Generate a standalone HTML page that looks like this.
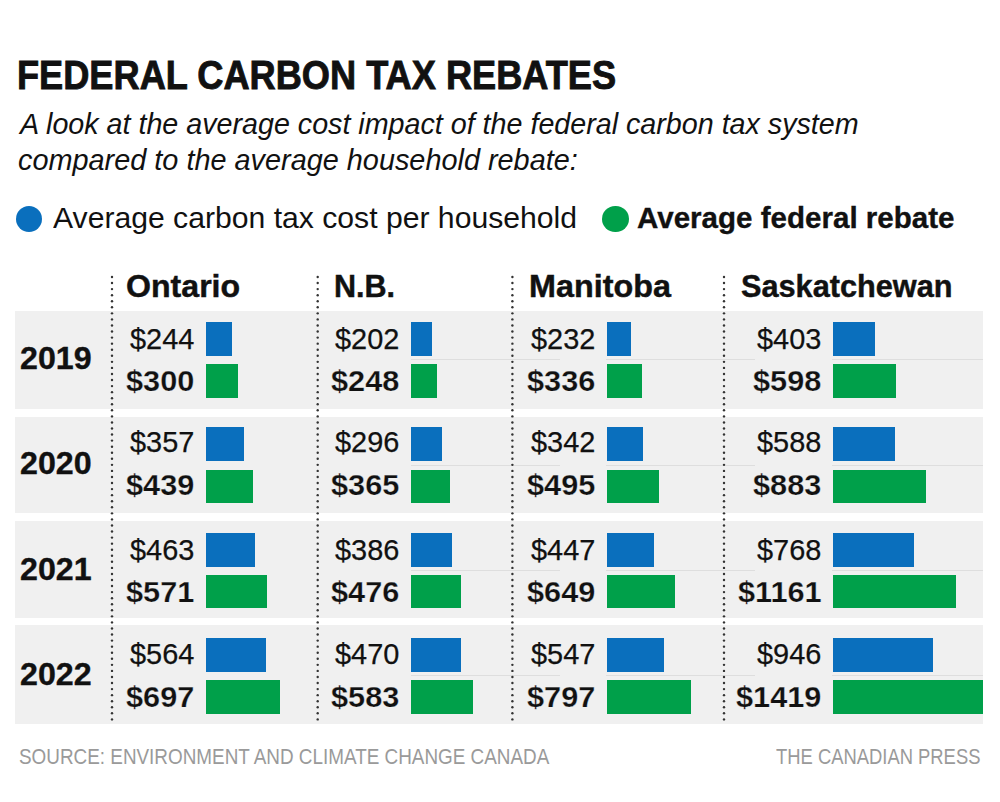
<!DOCTYPE html>
<html><head><meta charset="utf-8"><style>
html,body{margin:0;padding:0;background:#fff;width:1000px;height:802px;overflow:hidden}
body{position:relative;font-family:"Liberation Sans",sans-serif;color:#111}
.t{position:absolute;white-space:nowrap;transform-origin:0 0}
.r{position:absolute}
.dot{position:absolute;border-radius:50%}
.ov{position:absolute;left:0;top:0}
</style></head><body>
<div class="dot" style="left:15.7px;top:205.8px;width:26.6px;height:26.6px;background:#0a6fbd"></div>
<div class="dot" style="left:601.5px;top:205.8px;width:27px;height:26.6px;background:#00a04a"></div>
<div class="r" style="left:15px;top:310.70px;width:968px;height:98.30px;background:#f0f0f0"></div>
<div class="r" style="left:411px;top:359.35px;width:149px;height:1px;background:#dedede"></div>
<div class="r" style="left:606px;top:359.35px;width:149px;height:1px;background:#dedede"></div>
<div class="r" style="left:832px;top:359.35px;width:151px;height:1px;background:#dedede"></div>
<div class="r" style="left:15px;top:416.80px;width:968px;height:96.70px;background:#f0f0f0"></div>
<div class="r" style="left:411px;top:464.70px;width:149px;height:1px;background:#dedede"></div>
<div class="r" style="left:606px;top:464.70px;width:149px;height:1px;background:#dedede"></div>
<div class="r" style="left:832px;top:464.70px;width:151px;height:1px;background:#dedede"></div>
<div class="r" style="left:15px;top:521.00px;width:968px;height:96.70px;background:#f0f0f0"></div>
<div class="r" style="left:411px;top:570.20px;width:149px;height:1px;background:#dedede"></div>
<div class="r" style="left:606px;top:570.20px;width:149px;height:1px;background:#dedede"></div>
<div class="r" style="left:832px;top:570.20px;width:151px;height:1px;background:#dedede"></div>
<div class="r" style="left:15px;top:625.20px;width:968px;height:99.20px;background:#f0f0f0"></div>
<div class="r" style="left:411px;top:675.40px;width:149px;height:1px;background:#dedede"></div>
<div class="r" style="left:606px;top:675.40px;width:149px;height:1px;background:#dedede"></div>
<div class="r" style="left:832px;top:675.40px;width:151px;height:1px;background:#dedede"></div>
<div class="r" style="left:206px;top:321.80px;width:25.86px;height:33.80px;background:#0a6fbd"></div>
<div class="r" style="left:206px;top:364.10px;width:31.80px;height:33.50px;background:#00a04a"></div>
<div class="r" style="left:206px;top:427.20px;width:37.84px;height:33.70px;background:#0a6fbd"></div>
<div class="r" style="left:206px;top:469.50px;width:46.53px;height:33.70px;background:#00a04a"></div>
<div class="r" style="left:206px;top:532.50px;width:49.08px;height:34.00px;background:#0a6fbd"></div>
<div class="r" style="left:206px;top:574.90px;width:60.53px;height:33.60px;background:#00a04a"></div>
<div class="r" style="left:206px;top:638.10px;width:59.78px;height:33.60px;background:#0a6fbd"></div>
<div class="r" style="left:206px;top:680.10px;width:73.88px;height:33.50px;background:#00a04a"></div>
<div class="r" style="left:411px;top:321.80px;width:21.41px;height:33.80px;background:#0a6fbd"></div>
<div class="r" style="left:411px;top:364.10px;width:26.29px;height:33.50px;background:#00a04a"></div>
<div class="r" style="left:411px;top:427.20px;width:31.38px;height:33.70px;background:#0a6fbd"></div>
<div class="r" style="left:411px;top:469.50px;width:38.69px;height:33.70px;background:#00a04a"></div>
<div class="r" style="left:411px;top:532.50px;width:40.92px;height:34.00px;background:#0a6fbd"></div>
<div class="r" style="left:411px;top:574.90px;width:50.46px;height:33.60px;background:#00a04a"></div>
<div class="r" style="left:411px;top:638.10px;width:49.82px;height:33.60px;background:#0a6fbd"></div>
<div class="r" style="left:411px;top:680.10px;width:61.80px;height:33.50px;background:#00a04a"></div>
<div class="r" style="left:606.5px;top:321.80px;width:24.59px;height:33.80px;background:#0a6fbd"></div>
<div class="r" style="left:606.5px;top:364.10px;width:35.62px;height:33.50px;background:#00a04a"></div>
<div class="r" style="left:606.5px;top:427.20px;width:36.25px;height:33.70px;background:#0a6fbd"></div>
<div class="r" style="left:606.5px;top:469.50px;width:52.47px;height:33.70px;background:#00a04a"></div>
<div class="r" style="left:606.5px;top:532.50px;width:47.38px;height:34.00px;background:#0a6fbd"></div>
<div class="r" style="left:606.5px;top:574.90px;width:68.79px;height:33.60px;background:#00a04a"></div>
<div class="r" style="left:606.5px;top:638.10px;width:57.98px;height:33.60px;background:#0a6fbd"></div>
<div class="r" style="left:606.5px;top:680.10px;width:84.48px;height:33.50px;background:#00a04a"></div>
<div class="r" style="left:832.5px;top:321.80px;width:42.72px;height:33.80px;background:#0a6fbd"></div>
<div class="r" style="left:832.5px;top:364.10px;width:63.39px;height:33.50px;background:#00a04a"></div>
<div class="r" style="left:832.5px;top:427.20px;width:62.33px;height:33.70px;background:#0a6fbd"></div>
<div class="r" style="left:832.5px;top:469.50px;width:93.60px;height:33.70px;background:#00a04a"></div>
<div class="r" style="left:832.5px;top:532.50px;width:81.41px;height:34.00px;background:#0a6fbd"></div>
<div class="r" style="left:832.5px;top:574.90px;width:123.07px;height:33.60px;background:#00a04a"></div>
<div class="r" style="left:832.5px;top:638.10px;width:100.28px;height:33.60px;background:#0a6fbd"></div>
<div class="r" style="left:832.5px;top:680.10px;width:150.41px;height:33.50px;background:#00a04a"></div>
<svg class="ov" width="1000" height="802" viewBox="0 0 1000 802"><g fill="#333"><circle cx="112" cy="277.00" r="1.2"/><circle cx="112" cy="283.06" r="1.2"/><circle cx="112" cy="289.12" r="1.2"/><circle cx="112" cy="295.18" r="1.2"/><circle cx="112" cy="301.24" r="1.2"/><circle cx="112" cy="307.30" r="1.2"/><circle cx="112" cy="313.36" r="1.2"/><circle cx="112" cy="319.42" r="1.2"/><circle cx="112" cy="325.48" r="1.2"/><circle cx="112" cy="331.54" r="1.2"/><circle cx="112" cy="337.60" r="1.2"/><circle cx="112" cy="343.66" r="1.2"/><circle cx="112" cy="349.72" r="1.2"/><circle cx="112" cy="355.78" r="1.2"/><circle cx="112" cy="361.84" r="1.2"/><circle cx="112" cy="367.90" r="1.2"/><circle cx="112" cy="373.96" r="1.2"/><circle cx="112" cy="380.02" r="1.2"/><circle cx="112" cy="386.08" r="1.2"/><circle cx="112" cy="392.14" r="1.2"/><circle cx="112" cy="398.20" r="1.2"/><circle cx="112" cy="404.26" r="1.2"/><circle cx="112" cy="410.32" r="1.2"/><circle cx="112" cy="416.38" r="1.2"/><circle cx="112" cy="422.44" r="1.2"/><circle cx="112" cy="428.50" r="1.2"/><circle cx="112" cy="434.56" r="1.2"/><circle cx="112" cy="440.62" r="1.2"/><circle cx="112" cy="446.68" r="1.2"/><circle cx="112" cy="452.74" r="1.2"/><circle cx="112" cy="458.80" r="1.2"/><circle cx="112" cy="464.86" r="1.2"/><circle cx="112" cy="470.92" r="1.2"/><circle cx="112" cy="476.98" r="1.2"/><circle cx="112" cy="483.04" r="1.2"/><circle cx="112" cy="489.10" r="1.2"/><circle cx="112" cy="495.16" r="1.2"/><circle cx="112" cy="501.22" r="1.2"/><circle cx="112" cy="507.28" r="1.2"/><circle cx="112" cy="513.34" r="1.2"/><circle cx="112" cy="519.40" r="1.2"/><circle cx="112" cy="525.46" r="1.2"/><circle cx="112" cy="531.52" r="1.2"/><circle cx="112" cy="537.58" r="1.2"/><circle cx="112" cy="543.64" r="1.2"/><circle cx="112" cy="549.70" r="1.2"/><circle cx="112" cy="555.76" r="1.2"/><circle cx="112" cy="561.82" r="1.2"/><circle cx="112" cy="567.88" r="1.2"/><circle cx="112" cy="573.94" r="1.2"/><circle cx="112" cy="580.00" r="1.2"/><circle cx="112" cy="586.06" r="1.2"/><circle cx="112" cy="592.12" r="1.2"/><circle cx="112" cy="598.18" r="1.2"/><circle cx="112" cy="604.24" r="1.2"/><circle cx="112" cy="610.30" r="1.2"/><circle cx="112" cy="616.36" r="1.2"/><circle cx="112" cy="622.42" r="1.2"/><circle cx="112" cy="628.48" r="1.2"/><circle cx="112" cy="634.54" r="1.2"/><circle cx="112" cy="640.60" r="1.2"/><circle cx="112" cy="646.66" r="1.2"/><circle cx="112" cy="652.72" r="1.2"/><circle cx="112" cy="658.78" r="1.2"/><circle cx="112" cy="664.84" r="1.2"/><circle cx="112" cy="670.90" r="1.2"/><circle cx="112" cy="676.96" r="1.2"/><circle cx="112" cy="683.02" r="1.2"/><circle cx="112" cy="689.08" r="1.2"/><circle cx="112" cy="695.14" r="1.2"/><circle cx="112" cy="701.20" r="1.2"/><circle cx="112" cy="707.26" r="1.2"/><circle cx="112" cy="713.32" r="1.2"/><circle cx="112" cy="719.38" r="1.2"/><circle cx="317.7" cy="277.00" r="1.2"/><circle cx="317.7" cy="283.06" r="1.2"/><circle cx="317.7" cy="289.12" r="1.2"/><circle cx="317.7" cy="295.18" r="1.2"/><circle cx="317.7" cy="301.24" r="1.2"/><circle cx="317.7" cy="307.30" r="1.2"/><circle cx="317.7" cy="313.36" r="1.2"/><circle cx="317.7" cy="319.42" r="1.2"/><circle cx="317.7" cy="325.48" r="1.2"/><circle cx="317.7" cy="331.54" r="1.2"/><circle cx="317.7" cy="337.60" r="1.2"/><circle cx="317.7" cy="343.66" r="1.2"/><circle cx="317.7" cy="349.72" r="1.2"/><circle cx="317.7" cy="355.78" r="1.2"/><circle cx="317.7" cy="361.84" r="1.2"/><circle cx="317.7" cy="367.90" r="1.2"/><circle cx="317.7" cy="373.96" r="1.2"/><circle cx="317.7" cy="380.02" r="1.2"/><circle cx="317.7" cy="386.08" r="1.2"/><circle cx="317.7" cy="392.14" r="1.2"/><circle cx="317.7" cy="398.20" r="1.2"/><circle cx="317.7" cy="404.26" r="1.2"/><circle cx="317.7" cy="410.32" r="1.2"/><circle cx="317.7" cy="416.38" r="1.2"/><circle cx="317.7" cy="422.44" r="1.2"/><circle cx="317.7" cy="428.50" r="1.2"/><circle cx="317.7" cy="434.56" r="1.2"/><circle cx="317.7" cy="440.62" r="1.2"/><circle cx="317.7" cy="446.68" r="1.2"/><circle cx="317.7" cy="452.74" r="1.2"/><circle cx="317.7" cy="458.80" r="1.2"/><circle cx="317.7" cy="464.86" r="1.2"/><circle cx="317.7" cy="470.92" r="1.2"/><circle cx="317.7" cy="476.98" r="1.2"/><circle cx="317.7" cy="483.04" r="1.2"/><circle cx="317.7" cy="489.10" r="1.2"/><circle cx="317.7" cy="495.16" r="1.2"/><circle cx="317.7" cy="501.22" r="1.2"/><circle cx="317.7" cy="507.28" r="1.2"/><circle cx="317.7" cy="513.34" r="1.2"/><circle cx="317.7" cy="519.40" r="1.2"/><circle cx="317.7" cy="525.46" r="1.2"/><circle cx="317.7" cy="531.52" r="1.2"/><circle cx="317.7" cy="537.58" r="1.2"/><circle cx="317.7" cy="543.64" r="1.2"/><circle cx="317.7" cy="549.70" r="1.2"/><circle cx="317.7" cy="555.76" r="1.2"/><circle cx="317.7" cy="561.82" r="1.2"/><circle cx="317.7" cy="567.88" r="1.2"/><circle cx="317.7" cy="573.94" r="1.2"/><circle cx="317.7" cy="580.00" r="1.2"/><circle cx="317.7" cy="586.06" r="1.2"/><circle cx="317.7" cy="592.12" r="1.2"/><circle cx="317.7" cy="598.18" r="1.2"/><circle cx="317.7" cy="604.24" r="1.2"/><circle cx="317.7" cy="610.30" r="1.2"/><circle cx="317.7" cy="616.36" r="1.2"/><circle cx="317.7" cy="622.42" r="1.2"/><circle cx="317.7" cy="628.48" r="1.2"/><circle cx="317.7" cy="634.54" r="1.2"/><circle cx="317.7" cy="640.60" r="1.2"/><circle cx="317.7" cy="646.66" r="1.2"/><circle cx="317.7" cy="652.72" r="1.2"/><circle cx="317.7" cy="658.78" r="1.2"/><circle cx="317.7" cy="664.84" r="1.2"/><circle cx="317.7" cy="670.90" r="1.2"/><circle cx="317.7" cy="676.96" r="1.2"/><circle cx="317.7" cy="683.02" r="1.2"/><circle cx="317.7" cy="689.08" r="1.2"/><circle cx="317.7" cy="695.14" r="1.2"/><circle cx="317.7" cy="701.20" r="1.2"/><circle cx="317.7" cy="707.26" r="1.2"/><circle cx="317.7" cy="713.32" r="1.2"/><circle cx="317.7" cy="719.38" r="1.2"/><circle cx="512.4" cy="277.00" r="1.2"/><circle cx="512.4" cy="283.06" r="1.2"/><circle cx="512.4" cy="289.12" r="1.2"/><circle cx="512.4" cy="295.18" r="1.2"/><circle cx="512.4" cy="301.24" r="1.2"/><circle cx="512.4" cy="307.30" r="1.2"/><circle cx="512.4" cy="313.36" r="1.2"/><circle cx="512.4" cy="319.42" r="1.2"/><circle cx="512.4" cy="325.48" r="1.2"/><circle cx="512.4" cy="331.54" r="1.2"/><circle cx="512.4" cy="337.60" r="1.2"/><circle cx="512.4" cy="343.66" r="1.2"/><circle cx="512.4" cy="349.72" r="1.2"/><circle cx="512.4" cy="355.78" r="1.2"/><circle cx="512.4" cy="361.84" r="1.2"/><circle cx="512.4" cy="367.90" r="1.2"/><circle cx="512.4" cy="373.96" r="1.2"/><circle cx="512.4" cy="380.02" r="1.2"/><circle cx="512.4" cy="386.08" r="1.2"/><circle cx="512.4" cy="392.14" r="1.2"/><circle cx="512.4" cy="398.20" r="1.2"/><circle cx="512.4" cy="404.26" r="1.2"/><circle cx="512.4" cy="410.32" r="1.2"/><circle cx="512.4" cy="416.38" r="1.2"/><circle cx="512.4" cy="422.44" r="1.2"/><circle cx="512.4" cy="428.50" r="1.2"/><circle cx="512.4" cy="434.56" r="1.2"/><circle cx="512.4" cy="440.62" r="1.2"/><circle cx="512.4" cy="446.68" r="1.2"/><circle cx="512.4" cy="452.74" r="1.2"/><circle cx="512.4" cy="458.80" r="1.2"/><circle cx="512.4" cy="464.86" r="1.2"/><circle cx="512.4" cy="470.92" r="1.2"/><circle cx="512.4" cy="476.98" r="1.2"/><circle cx="512.4" cy="483.04" r="1.2"/><circle cx="512.4" cy="489.10" r="1.2"/><circle cx="512.4" cy="495.16" r="1.2"/><circle cx="512.4" cy="501.22" r="1.2"/><circle cx="512.4" cy="507.28" r="1.2"/><circle cx="512.4" cy="513.34" r="1.2"/><circle cx="512.4" cy="519.40" r="1.2"/><circle cx="512.4" cy="525.46" r="1.2"/><circle cx="512.4" cy="531.52" r="1.2"/><circle cx="512.4" cy="537.58" r="1.2"/><circle cx="512.4" cy="543.64" r="1.2"/><circle cx="512.4" cy="549.70" r="1.2"/><circle cx="512.4" cy="555.76" r="1.2"/><circle cx="512.4" cy="561.82" r="1.2"/><circle cx="512.4" cy="567.88" r="1.2"/><circle cx="512.4" cy="573.94" r="1.2"/><circle cx="512.4" cy="580.00" r="1.2"/><circle cx="512.4" cy="586.06" r="1.2"/><circle cx="512.4" cy="592.12" r="1.2"/><circle cx="512.4" cy="598.18" r="1.2"/><circle cx="512.4" cy="604.24" r="1.2"/><circle cx="512.4" cy="610.30" r="1.2"/><circle cx="512.4" cy="616.36" r="1.2"/><circle cx="512.4" cy="622.42" r="1.2"/><circle cx="512.4" cy="628.48" r="1.2"/><circle cx="512.4" cy="634.54" r="1.2"/><circle cx="512.4" cy="640.60" r="1.2"/><circle cx="512.4" cy="646.66" r="1.2"/><circle cx="512.4" cy="652.72" r="1.2"/><circle cx="512.4" cy="658.78" r="1.2"/><circle cx="512.4" cy="664.84" r="1.2"/><circle cx="512.4" cy="670.90" r="1.2"/><circle cx="512.4" cy="676.96" r="1.2"/><circle cx="512.4" cy="683.02" r="1.2"/><circle cx="512.4" cy="689.08" r="1.2"/><circle cx="512.4" cy="695.14" r="1.2"/><circle cx="512.4" cy="701.20" r="1.2"/><circle cx="512.4" cy="707.26" r="1.2"/><circle cx="512.4" cy="713.32" r="1.2"/><circle cx="512.4" cy="719.38" r="1.2"/><circle cx="724" cy="277.00" r="1.2"/><circle cx="724" cy="283.06" r="1.2"/><circle cx="724" cy="289.12" r="1.2"/><circle cx="724" cy="295.18" r="1.2"/><circle cx="724" cy="301.24" r="1.2"/><circle cx="724" cy="307.30" r="1.2"/><circle cx="724" cy="313.36" r="1.2"/><circle cx="724" cy="319.42" r="1.2"/><circle cx="724" cy="325.48" r="1.2"/><circle cx="724" cy="331.54" r="1.2"/><circle cx="724" cy="337.60" r="1.2"/><circle cx="724" cy="343.66" r="1.2"/><circle cx="724" cy="349.72" r="1.2"/><circle cx="724" cy="355.78" r="1.2"/><circle cx="724" cy="361.84" r="1.2"/><circle cx="724" cy="367.90" r="1.2"/><circle cx="724" cy="373.96" r="1.2"/><circle cx="724" cy="380.02" r="1.2"/><circle cx="724" cy="386.08" r="1.2"/><circle cx="724" cy="392.14" r="1.2"/><circle cx="724" cy="398.20" r="1.2"/><circle cx="724" cy="404.26" r="1.2"/><circle cx="724" cy="410.32" r="1.2"/><circle cx="724" cy="416.38" r="1.2"/><circle cx="724" cy="422.44" r="1.2"/><circle cx="724" cy="428.50" r="1.2"/><circle cx="724" cy="434.56" r="1.2"/><circle cx="724" cy="440.62" r="1.2"/><circle cx="724" cy="446.68" r="1.2"/><circle cx="724" cy="452.74" r="1.2"/><circle cx="724" cy="458.80" r="1.2"/><circle cx="724" cy="464.86" r="1.2"/><circle cx="724" cy="470.92" r="1.2"/><circle cx="724" cy="476.98" r="1.2"/><circle cx="724" cy="483.04" r="1.2"/><circle cx="724" cy="489.10" r="1.2"/><circle cx="724" cy="495.16" r="1.2"/><circle cx="724" cy="501.22" r="1.2"/><circle cx="724" cy="507.28" r="1.2"/><circle cx="724" cy="513.34" r="1.2"/><circle cx="724" cy="519.40" r="1.2"/><circle cx="724" cy="525.46" r="1.2"/><circle cx="724" cy="531.52" r="1.2"/><circle cx="724" cy="537.58" r="1.2"/><circle cx="724" cy="543.64" r="1.2"/><circle cx="724" cy="549.70" r="1.2"/><circle cx="724" cy="555.76" r="1.2"/><circle cx="724" cy="561.82" r="1.2"/><circle cx="724" cy="567.88" r="1.2"/><circle cx="724" cy="573.94" r="1.2"/><circle cx="724" cy="580.00" r="1.2"/><circle cx="724" cy="586.06" r="1.2"/><circle cx="724" cy="592.12" r="1.2"/><circle cx="724" cy="598.18" r="1.2"/><circle cx="724" cy="604.24" r="1.2"/><circle cx="724" cy="610.30" r="1.2"/><circle cx="724" cy="616.36" r="1.2"/><circle cx="724" cy="622.42" r="1.2"/><circle cx="724" cy="628.48" r="1.2"/><circle cx="724" cy="634.54" r="1.2"/><circle cx="724" cy="640.60" r="1.2"/><circle cx="724" cy="646.66" r="1.2"/><circle cx="724" cy="652.72" r="1.2"/><circle cx="724" cy="658.78" r="1.2"/><circle cx="724" cy="664.84" r="1.2"/><circle cx="724" cy="670.90" r="1.2"/><circle cx="724" cy="676.96" r="1.2"/><circle cx="724" cy="683.02" r="1.2"/><circle cx="724" cy="689.08" r="1.2"/><circle cx="724" cy="695.14" r="1.2"/><circle cx="724" cy="701.20" r="1.2"/><circle cx="724" cy="707.26" r="1.2"/><circle cx="724" cy="713.32" r="1.2"/><circle cx="724" cy="719.38" r="1.2"/></g></svg>
<div class="t" style="left:17.47px;top:54.94px;font-size:41.01px;line-height:41.01px;font-weight:bold;transform:scaleX(0.8826);-webkit-text-stroke:0.9px #111;">FEDERAL CARBON TAX REBATES</div>
<div class="t" style="left:19.68px;top:109.76px;font-size:28.99px;line-height:28.99px;font-style:italic;transform:scaleX(0.9890);">A look at the average cost impact of the federal carbon tax system</div>
<div class="t" style="left:18.43px;top:145.96px;font-size:28.99px;line-height:28.99px;font-style:italic;transform:scaleX(0.9954);">compared to the average household rebate:</div>
<div class="t" style="left:52.75px;top:202.92px;font-size:29.86px;line-height:29.86px;transform:scaleX(1.0096);">Average carbon tax cost per household</div>
<div class="t" style="left:637.11px;top:203.32px;font-size:29.86px;line-height:29.86px;font-weight:bold;transform:scaleX(0.9895);-webkit-text-stroke:0.35px #111;">Average federal rebate</div>
<div class="t" style="left:125.72px;top:270.90px;font-size:31.88px;line-height:31.88px;font-weight:bold;transform:scaleX(1.0072);-webkit-text-stroke:0.45px #111;">Ontario</div>
<div class="t" style="left:334.46px;top:270.90px;font-size:31.88px;line-height:31.88px;font-weight:bold;transform:scaleX(0.9578);-webkit-text-stroke:0.45px #111;">N.B.</div>
<div class="t" style="left:528.94px;top:270.90px;font-size:31.88px;line-height:31.88px;font-weight:bold;transform:scaleX(1.0141);-webkit-text-stroke:0.45px #111;">Manitoba</div>
<div class="t" style="left:741.48px;top:270.90px;font-size:31.88px;line-height:31.88px;font-weight:bold;transform:scaleX(0.9630);-webkit-text-stroke:0.45px #111;">Saskatchewan</div>
<div class="t" style="left:20.03px;top:343.13px;font-size:30.43px;line-height:30.43px;font-weight:bold;transform:scaleX(1.0572);-webkit-text-stroke:0.35px #111;">2019</div>
<div class="t" style="left:20.03px;top:448.43px;font-size:30.43px;line-height:30.43px;font-weight:bold;transform:scaleX(1.0572);-webkit-text-stroke:0.35px #111;">2020</div>
<div class="t" style="left:20.03px;top:554.43px;font-size:30.43px;line-height:30.43px;font-weight:bold;transform:scaleX(1.0572);-webkit-text-stroke:0.35px #111;">2021</div>
<div class="t" style="left:20.03px;top:658.73px;font-size:30.43px;line-height:30.43px;font-weight:bold;transform:scaleX(1.0572);-webkit-text-stroke:0.35px #111;">2022</div>
<div class="t" style="left:129.66px;top:323.75px;font-size:29.71px;line-height:29.71px;transform:scaleX(0.9735);-webkit-text-stroke:0.25px #111;">$244</div>
<div class="t" style="left:126.09px;top:366.12px;font-size:29.28px;line-height:29.28px;font-weight:bold;transform:scaleX(1.0485);-webkit-text-stroke:0.25px #f0f0f0;">$300</div>
<div class="t" style="left:129.66px;top:427.05px;font-size:29.71px;line-height:29.71px;transform:scaleX(0.9735);-webkit-text-stroke:0.25px #111;">$357</div>
<div class="t" style="left:126.09px;top:469.52px;font-size:29.28px;line-height:29.28px;font-weight:bold;transform:scaleX(1.0485);-webkit-text-stroke:0.25px #f0f0f0;">$439</div>
<div class="t" style="left:129.66px;top:534.65px;font-size:29.71px;line-height:29.71px;transform:scaleX(0.9735);-webkit-text-stroke:0.25px #111;">$463</div>
<div class="t" style="left:126.09px;top:577.32px;font-size:29.28px;line-height:29.28px;font-weight:bold;transform:scaleX(1.0485);-webkit-text-stroke:0.25px #f0f0f0;">$571</div>
<div class="t" style="left:129.66px;top:639.25px;font-size:29.71px;line-height:29.71px;transform:scaleX(0.9735);-webkit-text-stroke:0.25px #111;">$564</div>
<div class="t" style="left:126.09px;top:682.12px;font-size:29.28px;line-height:29.28px;font-weight:bold;transform:scaleX(1.0485);-webkit-text-stroke:0.25px #f0f0f0;">$697</div>
<div class="t" style="left:334.66px;top:323.75px;font-size:29.71px;line-height:29.71px;transform:scaleX(0.9735);-webkit-text-stroke:0.25px #111;">$202</div>
<div class="t" style="left:331.09px;top:366.12px;font-size:29.28px;line-height:29.28px;font-weight:bold;transform:scaleX(1.0485);-webkit-text-stroke:0.25px #f0f0f0;">$248</div>
<div class="t" style="left:334.66px;top:427.05px;font-size:29.71px;line-height:29.71px;transform:scaleX(0.9735);-webkit-text-stroke:0.25px #111;">$296</div>
<div class="t" style="left:331.09px;top:469.52px;font-size:29.28px;line-height:29.28px;font-weight:bold;transform:scaleX(1.0485);-webkit-text-stroke:0.25px #f0f0f0;">$365</div>
<div class="t" style="left:334.66px;top:534.65px;font-size:29.71px;line-height:29.71px;transform:scaleX(0.9735);-webkit-text-stroke:0.25px #111;">$386</div>
<div class="t" style="left:331.09px;top:577.32px;font-size:29.28px;line-height:29.28px;font-weight:bold;transform:scaleX(1.0485);-webkit-text-stroke:0.25px #f0f0f0;">$476</div>
<div class="t" style="left:334.66px;top:639.25px;font-size:29.71px;line-height:29.71px;transform:scaleX(0.9735);-webkit-text-stroke:0.25px #111;">$470</div>
<div class="t" style="left:331.09px;top:682.12px;font-size:29.28px;line-height:29.28px;font-weight:bold;transform:scaleX(1.0485);-webkit-text-stroke:0.25px #f0f0f0;">$583</div>
<div class="t" style="left:530.66px;top:323.75px;font-size:29.71px;line-height:29.71px;transform:scaleX(0.9735);-webkit-text-stroke:0.25px #111;">$232</div>
<div class="t" style="left:527.09px;top:366.12px;font-size:29.28px;line-height:29.28px;font-weight:bold;transform:scaleX(1.0485);-webkit-text-stroke:0.25px #f0f0f0;">$336</div>
<div class="t" style="left:530.66px;top:427.05px;font-size:29.71px;line-height:29.71px;transform:scaleX(0.9735);-webkit-text-stroke:0.25px #111;">$342</div>
<div class="t" style="left:527.09px;top:469.52px;font-size:29.28px;line-height:29.28px;font-weight:bold;transform:scaleX(1.0485);-webkit-text-stroke:0.25px #f0f0f0;">$495</div>
<div class="t" style="left:530.66px;top:534.65px;font-size:29.71px;line-height:29.71px;transform:scaleX(0.9735);-webkit-text-stroke:0.25px #111;">$447</div>
<div class="t" style="left:527.09px;top:577.32px;font-size:29.28px;line-height:29.28px;font-weight:bold;transform:scaleX(1.0485);-webkit-text-stroke:0.25px #f0f0f0;">$649</div>
<div class="t" style="left:530.66px;top:639.25px;font-size:29.71px;line-height:29.71px;transform:scaleX(0.9735);-webkit-text-stroke:0.25px #111;">$547</div>
<div class="t" style="left:527.09px;top:682.12px;font-size:29.28px;line-height:29.28px;font-weight:bold;transform:scaleX(1.0485);-webkit-text-stroke:0.25px #f0f0f0;">$797</div>
<div class="t" style="left:756.66px;top:323.75px;font-size:29.71px;line-height:29.71px;transform:scaleX(0.9735);-webkit-text-stroke:0.25px #111;">$403</div>
<div class="t" style="left:753.09px;top:366.12px;font-size:29.28px;line-height:29.28px;font-weight:bold;transform:scaleX(1.0485);-webkit-text-stroke:0.25px #f0f0f0;">$598</div>
<div class="t" style="left:756.66px;top:427.05px;font-size:29.71px;line-height:29.71px;transform:scaleX(0.9735);-webkit-text-stroke:0.25px #111;">$588</div>
<div class="t" style="left:753.09px;top:469.52px;font-size:29.28px;line-height:29.28px;font-weight:bold;transform:scaleX(1.0485);-webkit-text-stroke:0.25px #f0f0f0;">$883</div>
<div class="t" style="left:756.66px;top:534.65px;font-size:29.71px;line-height:29.71px;transform:scaleX(0.9735);-webkit-text-stroke:0.25px #111;">$768</div>
<div class="t" style="left:737.71px;top:577.32px;font-size:29.28px;line-height:29.28px;font-weight:bold;transform:scaleX(1.0485);-webkit-text-stroke:0.25px #f0f0f0;">$1161</div>
<div class="t" style="left:756.66px;top:639.25px;font-size:29.71px;line-height:29.71px;transform:scaleX(0.9735);-webkit-text-stroke:0.25px #111;">$946</div>
<div class="t" style="left:736.02px;top:682.12px;font-size:29.28px;line-height:29.28px;font-weight:bold;transform:scaleX(1.0485);-webkit-text-stroke:0.25px #f0f0f0;">$1419</div>
<div class="t" style="left:19.26px;top:745.72px;font-size:21.74px;line-height:21.74px;transform:scaleX(0.8689);color:#9a9a9a;">SOURCE: ENVIRONMENT AND CLIMATE CHANGE CANADA</div>
<div class="t" style="left:775.93px;top:745.72px;font-size:21.74px;line-height:21.74px;transform:scaleX(0.8463);color:#9a9a9a;">THE CANADIAN PRESS</div>
</body></html>
